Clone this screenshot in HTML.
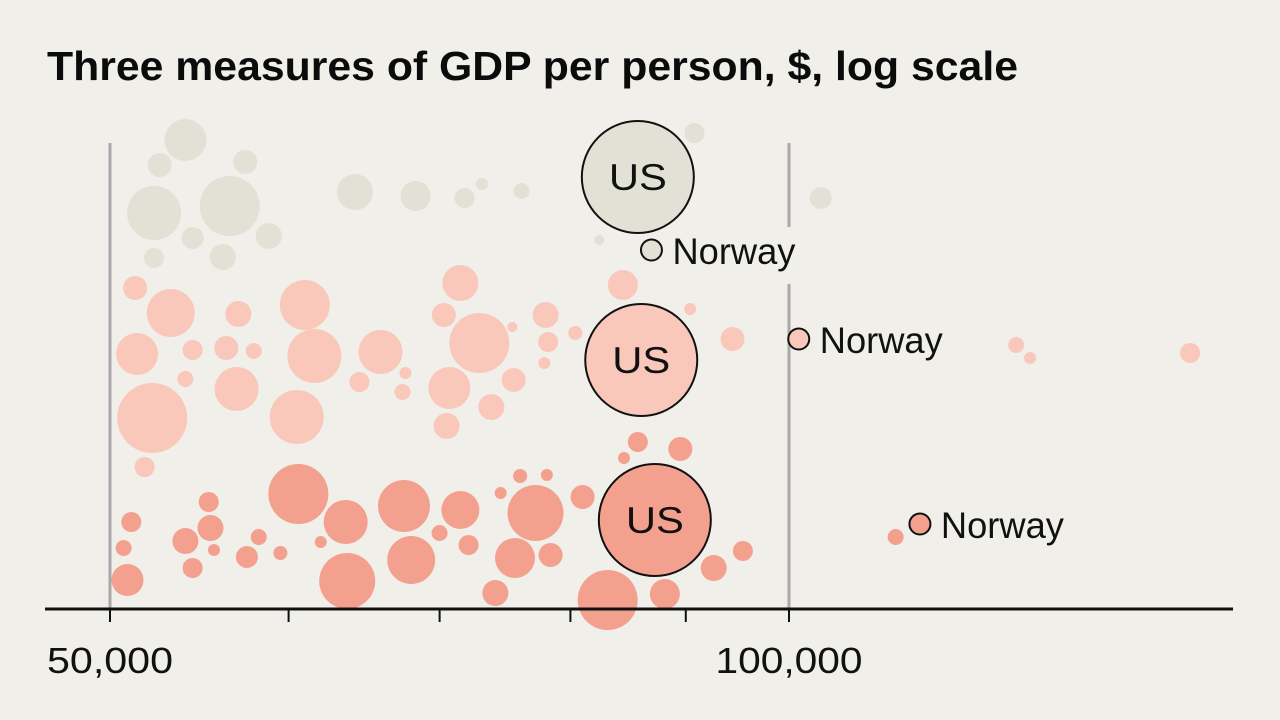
<!DOCTYPE html>
<html><head><meta charset="utf-8"><style>
html,body{margin:0;padding:0;background:#f0efea;}
svg{display:block;font-family:"Liberation Sans",sans-serif;}
</style></head><body>
<svg id="chart" width="1280" height="720" viewBox="0 0 1280 720">
<rect width="1280" height="720" fill="#f0efea"/>
<text x="47" y="80" font-size="41" font-weight="bold" textLength="971" lengthAdjust="spacingAndGlyphs" fill="#0b0b0b">Three measures of GDP per person, $, log scale</text>
<g id="grid"></g>
<g id="marks"></g>
<g id="axis"></g>
</svg>
<script>
// GDP per person, $ thousands
const row1Values=[54.0,52.6,57.4,52.3,56.5,54.4,58.8,52.3,56.1,64.2,68.3,71.8,73.1,76.1,90.8,82.4,103.3];
const row1Sizes=[21,12,12,27,30,11,13,10,13,18,15,10,6,8,10,5,11];
const row1Jitter=[140,165,162,213,206,238,236,258,257,192,196,198,184,191,133,240,198];
const row2Values=[51.3,53.2,57.0,61.0,51.4,54.4,56.3,57.9,61.6,65.9,71.5,70.3,72.9,75.4,78.0,80.4,78.2,77.9,54.0,56.9,52.2,60.5,64.5,67.6,67.4,70.7,75.5,73.8,70.5,84.4,90.4,94.4,126.1,127.9,150.6,51.8];
const row2Sizes=[12,24,13,25,21,10,12,8,27,22,18,12,30,5,13,7,10,6,8,22,35,27,10,6,8,21,12,13,13,15,6,12,8,6,10,10];
const row2Jitter=[288,313,314,305,354,350,348,351,356,352,283,315,343,327,315,333,342,363,379,389,418,417,382,373,392,388,380,407,426,285,309,339,345,358,353,467];
const row3Values=[51.1,50.7,50.9,54.0,55.3,55.4,55.6,54.4,57.5,58.2,59.5,60.6,63.6,63.7,62.0,67.5,68.0,71.5,72.1,70.0,74.5,76.0,78.1,77.2,75.6,78.4,74.1,81.0,85.7,84.5,89.5,92.6,95.4,88.1,83.1,111.5];
const row3Sizes=[10,8,16,13,10,13,6,10,11,8,7,30,22,28,6,26,24,19,10,8,6,7,6,28,20,12,13,12,10,6,12,13,10,15,30,8];
const row3Jitter=[522,548,580,541,502,528,550,568,557,537,553,494,522,581,542,506,560,510,545,533,493,476,475,513,558,555,593,497,442,458,449,568,551,594,600,537];
const usValues=[85.7,86.0,87.2];
const usY=[177,360,520];
const norwayValues=[86.9,101.0,114.3];
const norwayY=[250,339,524];
const tickValues=[50,60,70,80,90,100];
const tickLabels=["50,000","","","","","100,000"];
const rowColors=["#e2e1d6","#f9c8bb","#f4a08e"];

const NS="http://www.w3.org/2000/svg";
function x(v){return 110+679*Math.log2(v/50);}
function mk(tag,attrs,parent){const e=document.createElementNS(NS,tag);for(const k in attrs)e.setAttribute(k,attrs[k]);parent.appendChild(e);return e;}
const grid=document.getElementById('grid'),marks=document.getElementById('marks'),axis=document.getElementById('axis');

let g1=mk('line',{x1:x(50),x2:x(50),y1:143,y2:609,stroke:'#aaa9a9','stroke-width':3},grid);


[[143,227],[284,609]].forEach(s=>{
  const l=mk('line',{x1:x(100),x2:x(100),y1:s[0],y2:s[1],stroke:'#aaa9a9','stroke-width':3},grid);
  
  
});

const rows=[[row1Values,row1Sizes,row1Jitter],[row2Values,row2Sizes,row2Jitter],[row3Values,row3Sizes,row3Jitter]];
rows.forEach((r,ri)=>{
  r[0].forEach((v,i)=>{
    const c=mk('circle',{cx:x(v),cy:r[2][i],r:r[1][i],fill:rowColors[ri]},marks);
    
    
  });
});
usValues.forEach((v,i)=>{
  const c=mk('circle',{cx:x(v),cy:usY[i],r:56,fill:rowColors[i],stroke:'#111','stroke-width':2},marks);
  
  
  const t=mk('text',{x:x(v),y:usY[i]+13,'font-size':37,'text-anchor':'middle',fill:'#111',textLength:58,lengthAdjust:'spacingAndGlyphs'},marks);
  t.textContent='US';
  
  
});
norwayValues.forEach((v,i)=>{
  const c=mk('circle',{cx:x(v),cy:norwayY[i],r:10.5,fill:rowColors[i],stroke:'#111','stroke-width':2},marks);
  
  
  const t=mk('text',{x:x(v)+21,y:norwayY[i]+14,'font-size':37,fill:'#111',textLength:123,lengthAdjust:'spacingAndGlyphs'},marks);
  t.textContent='Norway';
  
  
});

const base=mk('line',{x1:45,x2:1233,y1:609,y2:609,stroke:'#111','stroke-width':3},axis);


tickValues.forEach((v,i)=>{
  const l=mk('line',{x1:x(v),x2:x(v),y1:609,y2:622,stroke:'#111','stroke-width':2},axis);
  
  
  if(tickLabels[i]){
    const w=tickLabels[i].length*21;
    const t=mk('text',{x:x(v),y:673,'font-size':36,'text-anchor':'middle',fill:'#111',textLength:w,lengthAdjust:'spacingAndGlyphs'},axis);
    t.textContent=tickLabels[i];
    
    
  }
});
</script>
</body></html>
